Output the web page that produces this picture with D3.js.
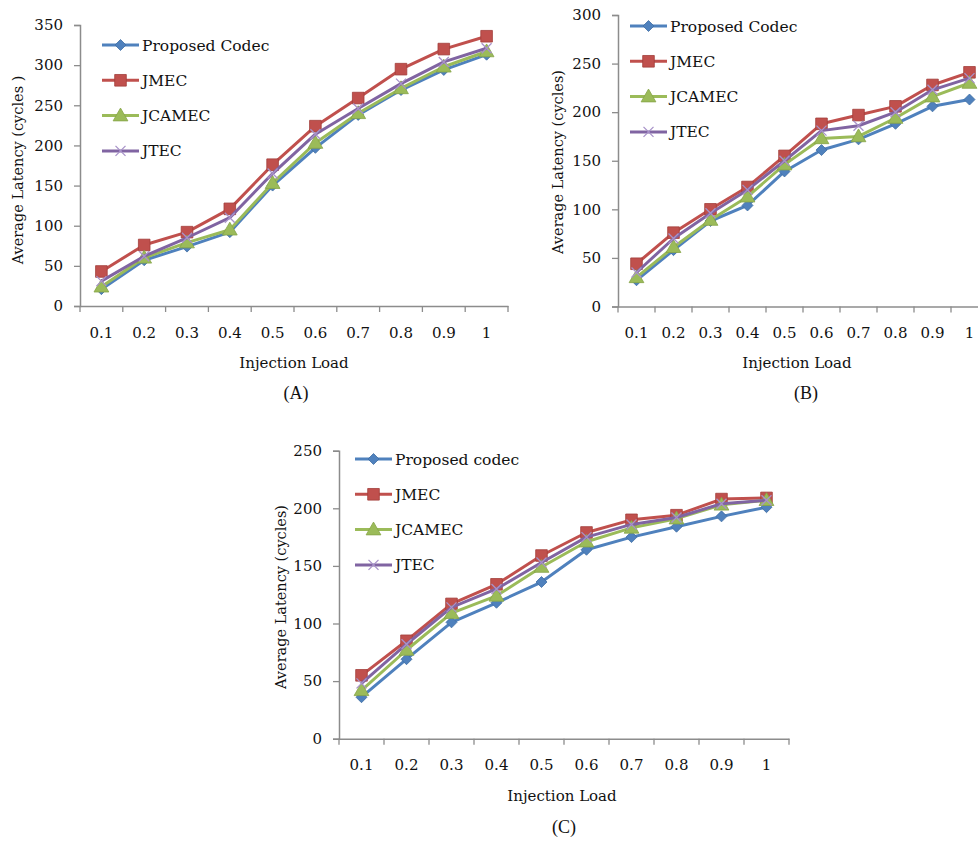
<!DOCTYPE html>
<html>
<head>
<meta charset="utf-8">
<script src="https://cdn.jsdelivr.net/npm/d3@7"></script>
<style>
  body { margin: 0; background: #fff; }
  svg text { font-family: "DejaVu Serif", serif; fill: #111; }
  .caption { font-family: "Liberation Serif", serif; font-size: 18px; }
</style>
</head>
<body>
<svg id="chart" width="978" height="841"></svg>
<script>
// categories
var loads = ["0.1", "0.2", "0.3", "0.4", "0.5", "0.6", "0.7", "0.8", "0.9", "1"];

// panel A
var aNames = ["Proposed Codec", "JMEC", "JCAMEC", "JTEC"];
var aProposed = [21, 57, 74, 92, 150, 197, 238, 269, 294, 313];
var aJMEC     = [43, 76, 92, 121, 176, 224, 259, 295, 320, 336];
var aJCAMEC   = [24, 60, 79, 95, 153, 203, 240, 271, 298, 317];
var aJTEC     = [31, 62, 85, 110, 165, 214, 246, 277, 304, 321];
var aTicks = [0, 50, 100, 150, 200, 250, 300, 350];

// panel B
var bNames = ["Proposed Codec", "JMEC", "JCAMEC", "JTEC"];
var bProposed = [27, 58, 88, 104, 139, 161, 172, 188, 206, 213];
var bJMEC     = [44, 76, 100, 123, 155, 188, 197, 206, 228, 241];
var bJCAMEC   = [30, 61, 89, 113, 146, 173, 175, 194, 216, 230];
var bJTEC     = [35, 70, 96, 120, 150, 181, 186, 200, 223, 235];
var bTicks = [0, 50, 100, 150, 200, 250, 300];

// panel C
var cNames = ["Proposed codec", "JMEC", "JCAMEC", "JTEC"];
var cProposed = [36, 69, 101, 118, 136, 164, 175, 184, 193, 201];
var cJMEC     = [55, 85, 117, 134, 159, 179, 190, 194, 208, 209];
var cJCAMEC   = [42, 77, 109, 124, 149, 171, 183, 191, 203, 207];
var cJTEC     = [48, 82, 114, 130, 153, 175, 186, 192, 204, 207];
var cTicks = [0, 50, 100, 150, 200, 250];

var colors = ["#4f81bd", "#c0504d", "#9bbb59", "#8064a2"];
var markers = ["diamond", "square", "triangle", "x"];

var svg = d3.select("#chart");

function drawMarker(g, kind, color, cx, cy) {
  if (kind === "diamond") {
    var d = 5.5;
    g.append("path")
      .attr("d", "M" + cx + "," + (cy - d) + "L" + (cx + d) + "," + cy +
                 "L" + cx + "," + (cy + d) + "L" + (cx - d) + "," + cy + "Z")
      .attr("fill", color).attr("stroke", "#3f6da3").attr("stroke-width", 0.8);
  } else if (kind === "square") {
    g.append("path").attr("d", d3.symbol(d3.symbolSquare, 135)())
      .attr("transform", "translate(" + cx + "," + cy + ")")
      .attr("fill", color).attr("stroke", "#a23d3a").attr("stroke-width", 0.8);
  } else if (kind === "triangle") {
    g.append("path").attr("d", d3.symbol(d3.symbolTriangle, 95)())
      .attr("transform", "translate(" + cx + "," + (cy + 1) + ")")
      .attr("fill", color).attr("stroke", "#86a447").attr("stroke-width", 0.8);
  } else {
    var r = 5;
    g.append("path")
      .attr("d", "M" + (cx - r) + "," + (cy - r) + "L" + (cx + r) + "," + (cy + r) +
                 "M" + (cx - r) + "," + (cy + r) + "L" + (cx + r) + "," + (cy - r))
      .attr("stroke", "#a893c9").attr("stroke-width", 1.3).attr("fill", "none");
  }
}

function drawPanel(p) {
  var g = svg.append("g");
  var x = d3.scaleBand().domain(loads).range([p.left, p.left + p.step * loads.length]);
  var y = d3.scaleLinear().domain([0, p.ymax]).range([p.y0, p.ytop]);

  // y axis
  var ya = g.append("g").attr("transform", "translate(" + p.left + ",0)")
    .call(d3.axisLeft(y).tickValues(p.ticks).tickSize(6).tickPadding(11));
  ya.select(".domain").attr("stroke", "#8c8c8c").attr("stroke-width", 1.5);
  ya.selectAll(".tick line").attr("stroke", "#8c8c8c").attr("stroke-width", 1.3);
  ya.selectAll(".tick text").style("font-size", "15px").attr("fill", "#111");

  // x axis, labels centred in category, tick marks on boundaries
  var xa = g.append("g").attr("transform", "translate(0," + p.y0 + ")")
    .call(d3.axisBottom(x).tickSize(0).tickPadding(21).tickSizeOuter(0));
  xa.select(".domain").attr("stroke", "#8c8c8c").attr("stroke-width", 1.5);
  xa.selectAll(".tick text").style("font-size", "15px").attr("fill", "#111");
  var bounds = loads.map(function(d) { return x(d); }).concat([x.range()[1]]);
  g.selectAll(".xt").data(bounds).enter().append("line")
    .attr("x1", function(d) { return d; }).attr("x2", function(d) { return d; })
    .attr("y1", p.y0).attr("y2", p.y0 + 6)
    .attr("stroke", "#8c8c8c").attr("stroke-width", 1.3);

  // series
  var line = d3.line()
    .x(function(d, i) { return x(loads[i]) + x.bandwidth() / 2; })
    .y(function(d) { return y(d); });
  p.series.forEach(function(s, k) {
    g.append("path").datum(s).attr("d", line)
      .attr("fill", "none").attr("stroke", colors[k]).attr("stroke-width", 3)
      .attr("stroke-linejoin", "round");
    s.forEach(function(v, i) {
      drawMarker(g, markers[k], colors[k], x(loads[i]) + x.bandwidth() / 2, y(v));
    });
  });

  // legend
  p.names.forEach(function(n, k) {
    var ly = p.legY + k * 35.3;
    g.append("line").attr("x1", p.legX).attr("x2", p.legX + 37)
      .attr("y1", ly).attr("y2", ly).attr("stroke", colors[k]).attr("stroke-width", 3);
    drawMarker(g, markers[k], colors[k], p.legX + 18.5, ly);
    g.append("text").attr("x", p.legX + 40).attr("y", ly + 5.5)
      .style("font-size", "15.5px").text(n);
  });

  // titles
  g.append("text").attr("x", p.xtX).attr("y", p.xtY).attr("text-anchor", "middle")
    .style("font-size", "15px").text("Injection Load");
  g.append("text").attr("transform", "translate(" + p.ytX + "," + p.ytY + ") rotate(-90)")
    .attr("text-anchor", "middle").style("font-size", "14.5px").text(p.ytitle);
  g.append("text").attr("class", "caption").attr("x", p.capX).attr("y", p.capY)
    .attr("text-anchor", "middle").text(p.caption);
}

drawPanel({
  left: 80, step: 42.8, y0: 306, ytop: 25, ymax: 350, ticks: aTicks,
  series: [aProposed, aJMEC, aJCAMEC, aJTEC], names: aNames,
  legX: 102, legY: 45, xtX: 294, xtY: 368, ytX: 23, ytY: 170,
  ytitle: "Average Latency (cycles )", capX: 296, capY: 399, caption: "(A)"
});
drawPanel({
  left: 618, step: 37, y0: 306.5, ytop: 15, ymax: 300, ticks: bTicks,
  series: [bProposed, bJMEC, bJCAMEC, bJTEC], names: bNames,
  legX: 630, legY: 26, xtX: 797, xtY: 368, ytX: 563, ytY: 162,
  ytitle: "Average Latency (cycles)", capX: 806, capY: 399, caption: "(B)"
});
drawPanel({
  left: 339, step: 45, y0: 738.7, ytop: 450.7, ymax: 250, ticks: cTicks,
  series: [cProposed, cJMEC, cJCAMEC, cJTEC], names: cNames,
  legX: 355, legY: 459, xtX: 562, xtY: 801, ytX: 286, ytY: 597,
  ytitle: "Average Latency (cycles)", capX: 564, capY: 833, caption: "(C)"
});
</script>
</body>
</html>
